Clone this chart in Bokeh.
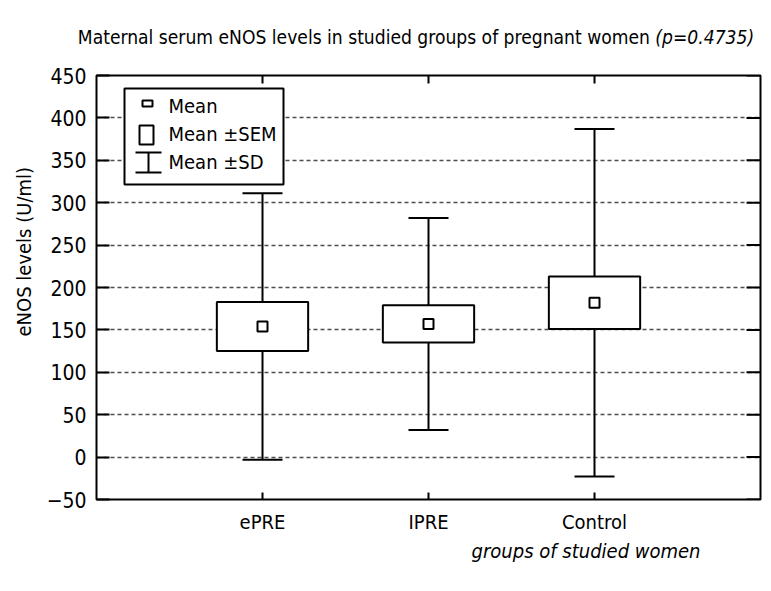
import math
from bokeh.plotting import figure
from bokeh.layouts import column
from bokeh.models import (Range1d, Whisker, TeeHead, ColumnDataSource, FixedTicker,
                          Label, BoxAnnotation, PolyAnnotation, Title, Div)
from bokeh.embed import file_html
from bokeh.resources import INLINE

# ---- data ----
groups = ["ePRE", "IPRE", "Control"]
means = [154, 157, 182]
sems = [29, 22, 31]
sds = [157, 125, 205]
yticks = [-50, 0, 50, 100, 150, 200, 250, 300, 350, 400, 450]

title_main = "Maternal serum eNOS levels in studied groups of pregnant women"
title_p = "(p=0.4735)"
y_title = "eNOS levels (U/ml)"
x_title = "groups of studied women"
legend_labels = ["Mean", "Mean \u00b1SEM", "Mean \u00b1SD"]

FONT = "DejaVu Sans Condensed"
FS = "20px"

xpos = [i + 1 for i in range(len(groups))]

src = ColumnDataSource(dict(
    x=xpos,
    mean=means,
    sem_lo=[m - s for m, s in zip(means, sems)],
    sem_hi=[m + s for m, s in zip(means, sems)],
    sd_lo=[m - s for m, s in zip(means, sds)],
    sd_hi=[m + s for m, s in zip(means, sds)],
))

xr = Range1d(0, len(groups) + 1)
yr = Range1d(yticks[0], yticks[-1])

p = figure(frame_width=664, frame_height=424, x_range=xr, y_range=yr,
           output_backend="svg", toolbar_location=None,
           min_border_left=96, min_border_top=25, min_border_right=6, min_border_bottom=70)

p.outline_line_color = "black"
p.outline_line_width = 2
p.outline_line_alpha = 1
p.background_fill_color = "white"
p.border_fill_color = "white"

p.xgrid.visible = False
p.ygrid.ticker = FixedTicker(ticks=yticks)
p.ygrid.grid_line_color = "#4d4d4d"
p.ygrid.grid_line_dash = "4 3"
p.ygrid.grid_line_width = 1.5

# left axis
ya = p.yaxis[0]
ya.ticker = FixedTicker(ticks=yticks)
ya.major_tick_in = 13
ya.major_tick_out = 0
ya.major_tick_line_width = 2
ya.minor_tick_line_color = None
ya.axis_line_color = None
ya.major_label_standoff = 10
ya.major_label_text_font = FONT
ya.major_label_text_font_size = "21px"
ya.major_label_text_color = "black"

# y axis title (sits a little above the frame centre, as in the original)
p.add_layout(Title(text=y_title, align="left", offset=163, text_font=FONT,
                   text_font_size=FS, text_font_style="normal", text_color="black",
                   standoff=16), "left")

# bottom axis
xa = p.xaxis[0]
xa.ticker = FixedTicker(ticks=xpos)
xa.major_label_overrides = {x: g for x, g in zip(xpos, groups)}
xa.major_tick_in = 7
xa.major_tick_out = 0
xa.major_tick_line_width = 2
xa.minor_tick_line_color = None
xa.axis_line_color = None
xa.major_label_standoff = 10
xa.major_label_text_font = FONT
xa.major_label_text_font_size = FS
xa.major_label_text_color = "black"

# x axis title (italic, under "Control")
p.add_layout(Title(text=x_title, align="right", offset=60, text_font=FONT,
                   text_font_size=FS, text_font_style="italic", text_color="black",
                   standoff=0), "below")

# inward ticks on the right and top edges
p.ray(x=[xr.end] * len(yticks), y=yticks, length=14, length_units="screen",
      angle=math.pi, line_color="black", line_width=2)
p.ray(x=xpos, y=[yr.end] * len(xpos), length=8, length_units="screen",
      angle=-math.pi / 2, line_color="black", line_width=2)

# ---- data marks ----
p.add_layout(Whisker(source=src, base="x", upper="sd_hi", lower="sd_lo",
                     line_width=2, line_color="black",
                     upper_head=TeeHead(size=40, line_width=2, line_color="black"),
                     lower_head=TeeHead(size=40, line_width=2, line_color="black")))
p.vbar(x="x", top="sem_hi", bottom="sem_lo", width=0.55, source=src,
       fill_color="white", line_color="black", line_width=2)
p.scatter(x="x", y="mean", marker="square", size=10, source=src,
          fill_color="white", line_color="black", line_width=2)

# ---- legend (annotations in frame pixel units) ----
def box(l, r, b, t):
    return BoxAnnotation(left=l, right=r, bottom=b, top=t,
                         left_units="screen", right_units="screen",
                         bottom_units="screen", top_units="screen",
                         fill_color="white", fill_alpha=1, line_color="black",
                         line_alpha=1, line_width=2)

p.add_layout(box(28, 187, 315, 411))
p.add_layout(box(46, 56, 393, 399))
p.add_layout(box(43, 57, 355, 374))
p.add_layout(PolyAnnotation(xs=[39, 65, 52, 52, 39, 65, 52, 52],
                            ys=[347, 347, 347, 327, 327, 327, 327, 347],
                            xs_units="screen", ys_units="screen",
                            fill_alpha=0, line_color="black", line_alpha=1, line_width=2))
for txt, yy in zip(legend_labels, [394, 366, 338]):
    p.add_layout(Label(x=72, y=yy, x_units="screen", y_units="screen", text=txt,
                       text_font=FONT, text_font_size=FS, text_baseline="middle",
                       text_color="black"))

# ---- chart title (normal + italic part) ----
title_html = (
    f'<div style="margin-left:76px;width:680px;text-align:center;white-space:nowrap;'
    f'font-family:\'{FONT}\';font-size:19.1px;line-height:22px;padding-top:27px;color:black">'
    f'{title_main} <i>{title_p}</i></div>'
)
head = Div(text=title_html, width=764, height=50, margin=0)

layout = column(head, p, spacing=0)
open("out.html", "w").write(file_html(layout, INLINE))
